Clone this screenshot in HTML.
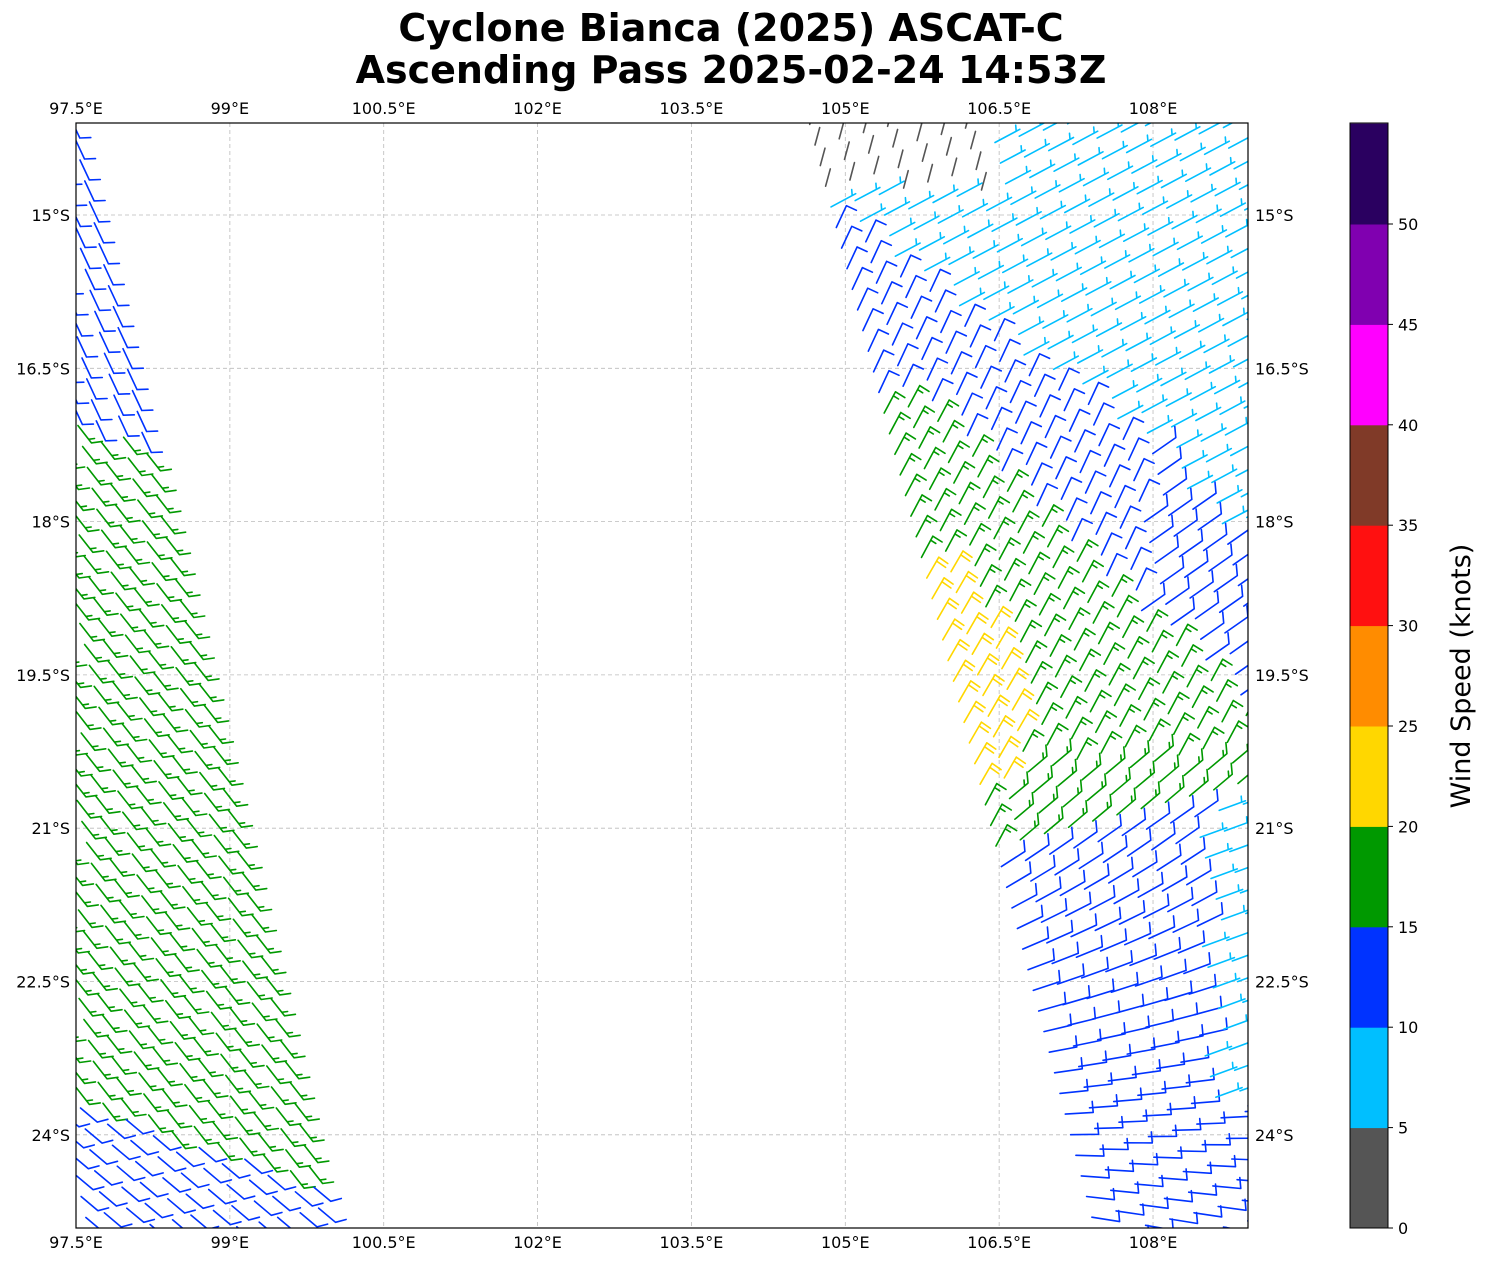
<!DOCTYPE html>
<html><head><meta charset="utf-8"><style>
body{margin:0;background:#fff;}
svg{display:block;font-family:"DejaVu Sans","Liberation Sans",sans-serif;}
</style></head><body>
<svg id="s" width="1487" height="1264" xmlns="http://www.w3.org/2000/svg">
<defs><clipPath id="cp"><rect x="76" y="123" width="1172" height="1105"/></clipPath></defs>
<rect width="1487" height="1264" fill="#fff"/>
<text x="731" y="41" font-size="38" font-weight="bold" text-anchor="middle">Cyclone Bianca (2025) ASCAT-C</text>
<text x="731" y="83" font-size="38" font-weight="bold" text-anchor="middle">Ascending Pass 2025-02-24 14:53Z</text>
<g id="grid" stroke="#bbb" stroke-width="0.8" stroke-dasharray="4,3"></g>
<g id="barbs" clip-path="url(#cp)" fill="none" stroke-width="1.6" stroke-linecap="round"></g>
<rect x="76" y="123" width="1172" height="1105" fill="none" stroke="#000" stroke-width="1.2"/>
<g id="labels" font-size="16" fill="#000"></g>
<g id="cbar"></g>
<text transform="translate(1470,676) rotate(-90)" font-size="27" text-anchor="middle">Wind Speed (knots)</text>
</svg>
<script>
(function(){
var NS="http://www.w3.org/2000/svg";
function el(p,t,a,txt){var e=document.createElementNS(NS,t);for(var k in a)e.setAttribute(k,a[k]);if(txt!=null)e.textContent=txt;p.appendChild(e);return e;}
var g=document.getElementById('grid'),L=document.getElementById('labels'),B=document.getElementById('barbs'),C=document.getElementById('cbar');
var lons=["97.5°E","99°E","100.5°E","102°E","103.5°E","105°E","106.5°E","108°E"];
for(var i=0;i<8;i++){var x=76+i*153.86;el(g,'line',{x1:x,y1:123,x2:x,y2:1228});
el(L,'text',{x:x,y:114,'text-anchor':'middle'},lons[i]);el(L,'text',{x:x,y:1248,'text-anchor':'middle'},lons[i]);}
var lats=["15°S","16.5°S","18°S","19.5°S","21°S","22.5°S","24°S"];
for(var i=0;i<7;i++){var y=215+i*153.3;el(g,'line',{x1:76,y1:y,x2:1248,y2:y});
el(L,'text',{x:70,y:y+6,'text-anchor':'end'},lats[i]);el(L,'text',{x:1255,y:y+6},lats[i]);}
var cols=["#555555","#00bfff","#0033ff","#009900","#ffd700","#ff8c00","#ff1010","#803a28","#ff00ff","#8000b0","#2a0060"];
for(var i=0;i<11;i++){var yb=1228-i*100.4;var yt=Math.max(123,yb-100.4);el(C,'rect',{x:1350,y:yt,width:38,height:yb-yt+0.5,fill:cols[i]});}
el(C,'rect',{x:1350,y:123,width:38,height:1105,fill:'none',stroke:'#000','stroke-width':1});
for(var i=0;i<=10;i++){var y=1228-i*100.4;el(C,'line',{x1:1388,y1:y,x2:1393,y2:y,stroke:'#000'});el(C,'text',{x:1398,y:y+6,'font-size':16},String(i*5));}
function rad(a){return a*Math.PI/180;}
function barb(x,y,ta,ba,spd,col,S){
 S=S||24;var dx=Math.sin(rad(ta)),dy=-Math.cos(rad(ta));
 var tx=x+dx*S,ty=y+dy*S;var d="M"+x.toFixed(1)+" "+y.toFixed(1)+"L"+tx.toFixed(1)+" "+ty.toFixed(1);
 var bx=Math.sin(rad(ba)),by=-Math.cos(rad(ba));
 var full=Math.floor(spd/10),half=(spd%10)>=5?1:0,pos=0;
 for(var k=0;k<full;k++){var px=tx-dx*pos,py=ty-dy*pos;d+="M"+px.toFixed(1)+" "+py.toFixed(1)+"l"+(bx*11).toFixed(1)+" "+(by*11).toFixed(1);pos+=4.5;}
 if(half){if(full==0)pos=4;var px=tx-dx*pos,py=ty-dy*pos;d+="M"+px.toFixed(1)+" "+py.toFixed(1)+"l"+(bx*6).toFixed(1)+" "+(by*6).toFixed(1);}
 el(B,'path',{d:d,stroke:col});
}
function inb(x,y){return x>60&&x<1265&&y>100&&y<1250;}
var ax=0.222*21.5,ay=0.975*21.5,cx=0.975*21,cy=-0.222*21;
for(var n=-3;n<56;n++)for(var m=0;m<14;m++){
 var x=80+n*ax-m*cx+(m%2)*2,y=160+n*ay-m*cy;if(!inb(x,y))continue;
 var col,sp,ta,ba;
 if(y<420+(x-76)*0.3){col=cols[2];sp=12;ta=155;ba=88;}
 else {col=cols[3];sp=17;ta=142;ba=82;}
 if(y>1100+(x-76)*0.35){col=cols[2];sp=12;ta=130;ba=75;}
 barb(x,y,ta,ba,sp,col,22);
}
var ax2=0.25*21.3,ay2=0.968*21.3,cx2=0.968*25,cy2=-0.25*25;
for(var n=-2;n<56;n++)for(var m=0;m<26;m++){
 var x=815+n*ax2+m*cx2,y=145+n*ay2+m*cy2;if(!inb(x,y))continue;
 var col=cols[2],sp=12,ta=25,ba=115,S=24;
 if(x>1140||y>790){ta=Math.min(100,55+Math.max(0,(y-850)*0.12));ba=-5;S=28;}
 var bnd=210+(x-830)*0.75; if(x>1150) bnd=450+(x-1150)*1.1;
 if(y<bnd){col=cols[1];sp=7;ta=62;ba=-5;S=28;}
 if(x>1200&&y>780&&y<1110){col=cols[1];sp=7;ta=70;ba=-5;S=28;}
 var gmax=n<13?-1:(n<=25?2+(n-13)*0.5:(n<=34?8+(n-25)*0.55:-1));
 if(m<gmax){col=cols[3];sp=17;S=24;if(y>760&&x>1000){ta=50;ba=-5;}else{ta=28;ba=122;}}
 if(n>=21&&n<=31&&m<(n>=24&&n<=29?2.5:1.5)){col=cols[4];sp=22;ta=30;ba=125;S=24;}
 if(y<190&&x<990){col=cols[0];sp=2;ta=15;ba=0;S=18;}
 barb(x,y,ta,ba,sp,col,S);
}
})();
</script>
</body></html>
